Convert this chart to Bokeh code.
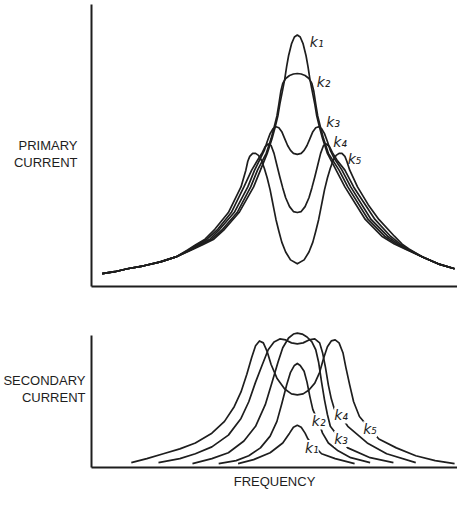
from bokeh.plotting import figure
from bokeh.layouts import column
from bokeh.models import Range1d, FixedTicker, Label
from bokeh.embed import file_html
from bokeh.resources import INLINE

# ---------------- data (arbitrary units) ----------------
# Upper panel: primary current vs frequency for couplings k1..k5
prim_f_k1 = [7, 20, 33, 50, 67, 83, 99, 110, 122, 133, 148, 163, 170, 177, 182, 185, 188, 190, 193, 195, 197, 199, 202, 205, 208,
             211, 214, 217, 219, 221, 223, 226, 228, 231, 234, 239, 248, 257, 278, 295, 308, 319, 337, 353, 370]
prim_i_k1 = [13, 15, 18, 21, 25, 30, 37, 42, 48, 58, 75, 101, 118, 135, 150, 161, 173, 185, 200, 210, 223, 234, 246, 253, 255,
             253, 246, 234, 223, 210, 200, 185, 173, 161, 150, 135, 118, 101, 68, 51, 43, 38, 30, 23, 18]

prim_f_k2 = [7, 20, 33, 50, 67, 83, 98, 108, 120, 131, 146, 160, 167, 176, 181, 184, 187, 189, 191, 193, 196, 200, 204, 208,
             212, 216, 220, 223, 225, 227, 229, 232, 235, 240, 251, 260, 281, 298, 310, 320, 337, 353, 370]
prim_i_k2 = [13, 15, 18, 21, 25, 30, 37, 42, 48, 58, 75, 101, 118, 135, 150, 161, 173, 185, 198, 206, 211, 214, 215.5, 216,
             215.5, 214, 211, 206, 198, 185, 173, 161, 150, 135, 118, 101, 68, 51, 43, 38, 30, 23, 18]

prim_f_k3 = [7, 20, 33, 50, 67, 83, 97, 106, 118, 128, 143, 157, 164, 170, 174, 177, 180, 183, 186, 189, 192, 195, 198, 201,
             204, 208, 212, 215, 218, 221, 224, 227, 230, 233, 236, 239, 242, 246, 254, 263, 284, 301, 312, 321, 337, 353, 370]
prim_i_k3 = [13, 15, 18, 21, 25, 30, 37, 42, 48, 58, 75, 101, 118, 130, 138, 147, 155, 160, 162, 161, 157, 150, 143, 138,
             135, 134, 135, 138, 143, 150, 157, 161, 162, 160, 155, 147, 138, 130, 118, 101, 68, 51, 43, 38, 30, 23, 18]

prim_f_k4 = [7, 20, 33, 50, 67, 83, 96, 104, 115, 126, 140, 153, 161, 167, 172, 175, 178, 181, 184, 187, 190, 193, 196, 200,
             204, 208, 212, 216, 220, 223, 226, 229, 232, 235, 238, 241, 244, 249, 257, 266, 288, 304, 314, 322, 337, 353, 370]
prim_i_k4 = [13, 15, 18, 21, 25, 30, 37, 42, 48, 58, 75, 101, 118, 128, 136, 142, 144.5, 143, 135, 123, 111, 100, 90, 81,
             76, 75, 76, 81, 90, 100, 111, 123, 135, 143, 144.5, 142, 136, 128, 118, 101, 68, 51, 43, 38, 30, 23, 18]

prim_f_k5 = [7, 20, 33, 50, 67, 83, 95, 103, 113, 123, 137, 150, 155, 157, 159, 162, 165, 168, 171, 174, 177, 180, 182, 184,
             186, 189, 192, 196, 201, 208, 215, 220, 224, 227, 230, 232, 234, 236, 239, 242, 245, 248, 251, 254, 257, 259,
             262, 270, 281, 292, 308, 316, 323, 337, 353, 370]
prim_i_k5 = [13, 15, 18, 21, 25, 30, 37, 42, 48, 58, 75, 101, 118, 127, 132, 135, 135, 133, 128, 120, 110, 98, 88, 78,
             68, 56, 45, 35, 27, 23, 27, 35, 45, 56, 68, 78, 88, 98, 110, 120, 128, 133, 135, 135, 132, 127,
             118, 101, 83, 68, 51, 43, 38, 30, 23, 18]

# Lower panel: secondary current vs frequency for couplings k1..k5
sec_f_k1 = [147, 163, 180, 193, 200, 204, 208, 212, 216, 219, 226, 233, 247, 267]
sec_i_k1 = [4, 8, 15, 25, 35, 41, 43, 41, 35, 29, 21, 14, 9, 4]

sec_f_k2 = [127, 145, 158, 170, 180, 187, 192, 197, 201, 205, 208, 211, 215, 218, 221, 224, 230, 234, 240, 250, 263, 283]
sec_i_k2 = [4, 7, 12, 20, 32, 47, 65, 84, 97, 104, 106, 104, 98, 87, 72, 59, 46, 35, 25, 17, 10, 5]

sec_f_k3 = [100, 120, 137, 153, 165, 175, 182, 188, 193, 199, 204, 208, 213, 218, 223, 227, 230, 233, 236, 239, 242, 252,
            260, 283, 307]
sec_i_k3 = [4, 9, 15, 27, 42, 64, 87, 107, 122, 132, 136, 137, 136, 133, 128, 120, 107, 87, 69, 54, 42, 29, 20, 10, 5]

sec_f_k4 = [65, 87, 103, 120, 137, 150, 158, 165, 172, 178, 184, 190, 196, 202, 208, 214, 220, 226, 231, 234, 237, 240,
            243, 246, 253, 260, 280, 300, 330]
sec_i_k4 = [5, 9, 14, 21, 33, 50, 67, 87, 105, 120, 128, 131, 130, 127, 126, 127, 130, 131, 127, 117, 102, 84, 70, 60,
            52, 42, 25, 14, 5]

sec_f_k5 = [37, 53, 70, 87, 103, 120, 133, 143, 150, 156, 161, 165, 169, 173, 177, 181, 187, 195, 202, 208, 214, 220,
            226, 231, 235, 239, 243, 247, 251, 255, 258, 262, 266, 272, 283, 292, 310, 330, 350, 370]
sec_i_k5 = [5, 9, 14, 19, 25, 35, 47, 62, 77, 95, 112, 124, 129, 127, 118, 105, 91, 80, 75, 74, 75, 79, 86, 97, 111,
            123, 129, 130, 127, 117, 102, 84, 67, 52, 39, 29, 20, 12, 7, 4]

curve_names = ["k\u2081", "k\u2082", "k\u2083", "k\u2084", "k\u2085"]

# ---------------- layout / styling (positions in data units) ----------------
prim_label_f = [228, 235, 245, 252, 267]
prim_label_i = [248, 207, 167, 147, 129]
sec_label_f = [223, 230, 253, 253, 283]
sec_label_i = [20, 47, 29, 53, 39]

INK = "#1e1e1e"
FONT = "Liberation Sans"


def style(p, ylabel, ystandoff, ybounds=None, xlabel=None):
    p.xgrid.visible = False
    p.ygrid.visible = False
    p.outline_line_color = None
    p.background_fill_color = "white"
    p.border_fill_color = "white"
    for ax in (p.xaxis[0], p.yaxis[0]):
        ax.ticker = FixedTicker(ticks=[], minor_ticks=[])
        ax.major_tick_in = 0
        ax.major_tick_out = 0
        ax.minor_tick_in = 0
        ax.minor_tick_out = 0
        ax.major_label_text_font_size = "0px"
        ax.major_label_standoff = 0
        ax.axis_line_width = 2
        ax.axis_line_color = INK
        ax.axis_label_text_font = FONT
        ax.axis_label_text_font_size = "13px"
        ax.axis_label_text_font_style = "normal"
        ax.axis_label_text_color = INK
        ax.axis_label_text_line_height = 1.15
    p.yaxis[0].axis_label = ylabel
    p.yaxis[0].axis_label_orientation = "horizontal"
    p.yaxis[0].axis_label_standoff = ystandoff
    if ybounds is not None:
        p.yaxis[0].bounds = ybounds
    if xlabel is not None:
        p.xaxis[0].axis_label = xlabel
        p.xaxis[0].axis_label_standoff = 6


W = 457
top = figure(width=W, height=288, x_range=Range1d(-4, 373), y_range=Range1d(0, 286),
             output_backend="svg", toolbar_location=None,
             min_border_left=88, min_border_right=0, min_border_top=4, min_border_bottom=2)
style(top, "\nPRIMARY\nCURRENT", 14)

prim = [(prim_f_k1, prim_i_k1), (prim_f_k2, prim_i_k2), (prim_f_k3, prim_i_k3),
        (prim_f_k4, prim_i_k4), (prim_f_k5, prim_i_k5)]
for f, i in prim:
    top.line(f, i, line_color=INK, line_width=1.7, line_join="round")

for name, lx, ly in zip(curve_names, prim_label_f, prim_label_i):
    top.add_layout(Label(x=lx, y=ly, text=name, text_font="DejaVu Sans", text_font_style="italic",
                         text_font_size="14px", text_color=INK, text_align="center",
                         text_baseline="middle"))

bot = figure(width=W, height=203, x_range=Range1d(-4, 373), y_range=Range1d(0, 160),
             output_backend="svg", toolbar_location=None,
             min_border_left=88, min_border_right=0, min_border_top=22, min_border_bottom=21)
style(bot, "SECONDARY\nCURRENT", 6, ybounds=(0, 135), xlabel="FREQUENCY")

sec = [(sec_f_k1, sec_i_k1), (sec_f_k2, sec_i_k2), (sec_f_k3, sec_i_k3),
       (sec_f_k4, sec_i_k4), (sec_f_k5, sec_i_k5)]
for f, i in sec:
    bot.line(f, i, line_color=INK, line_width=1.7, line_join="round")

for name, lx, ly in zip(curve_names, sec_label_f, sec_label_i):
    bot.add_layout(Label(x=lx, y=ly, text=name, text_font="DejaVu Sans", text_font_style="italic",
                         text_font_size="14px", text_color=INK, text_align="center",
                         text_baseline="middle", background_fill_color="white",
                         background_fill_alpha=1.0))

layout = column(top, bot, spacing=0)
open("out.html", "w").write(file_html(layout, INLINE))
